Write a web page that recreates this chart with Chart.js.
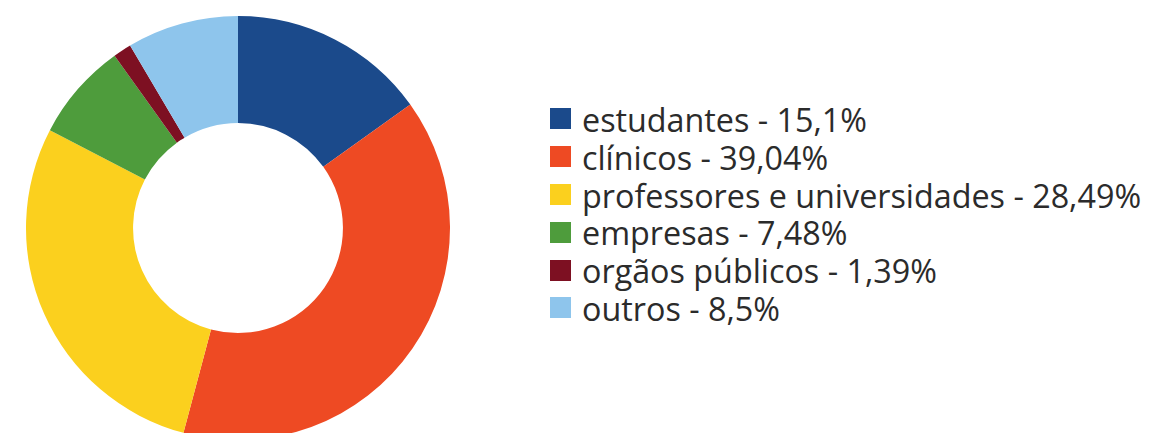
<!DOCTYPE html>
<html>
<head>
<meta charset="utf-8">
<script src="https://cdn.jsdelivr.net/npm/chart.js@4"></script>
<style>
  html, body { margin: 0; padding: 0; background: #fff; width: 1153px; height: 433px; overflow: hidden; }
  #wrap { position: absolute; left: 26px; top: 16px; width: 424px; height: 424px; }
  #legend { position: absolute; left: 550px; top: 100px; font-family: "Open Sans", sans-serif; font-size: 32.3px; color: #2b2b2b; }
  .row { height: 37.8px; line-height: 37.8px; white-space: nowrap; display: flex; align-items: center; }
  .sw { width: 21px; height: 21px; margin-right: 11px; flex: none; }
  .tx { position: relative; top: 1px; }
</style>
</head>
<body>
<div id="wrap"><canvas id="c"></canvas></div>
<div id="legend"></div>
<script>
const categories = ["estudantes", "clínicos", "professores e universidades", "empresas", "orgãos públicos", "outros"];
const values = [15.1, 39.04, 28.49, 7.48, 1.39, 8.5];
const valueLabels = ["15,1%", "39,04%", "28,49%", "7,48%", "1,39%", "8,5%"];
const colors = ["#1b4a8b", "#ee4a23", "#fbd01e", "#4e9c3c", "#7d1022", "#8ec5ec"];

new Chart(document.getElementById("c"), {
  type: "doughnut",
  data: {
    labels: categories,
    datasets: [{ data: values, backgroundColor: colors, borderWidth: 0, hoverOffset: 0 }]
  },
  options: {
    responsive: true,
    maintainAspectRatio: false,
    animation: false,
    cutout: "49.5%",
    plugins: { legend: { display: false }, tooltip: { enabled: false } },
    layout: { padding: 0 }
  }
});

const legend = document.getElementById("legend");
categories.forEach((name, i) => {
  const row = document.createElement("div");
  row.className = "row";
  const sw = document.createElement("span");
  sw.className = "sw";
  sw.style.background = colors[i];
  const t = document.createElement("span");
  t.className = "tx";
  t.textContent = name + " - " + valueLabels[i];
  row.appendChild(sw);
  row.appendChild(t);
  legend.appendChild(row);
});
</script>
</body>
</html>
